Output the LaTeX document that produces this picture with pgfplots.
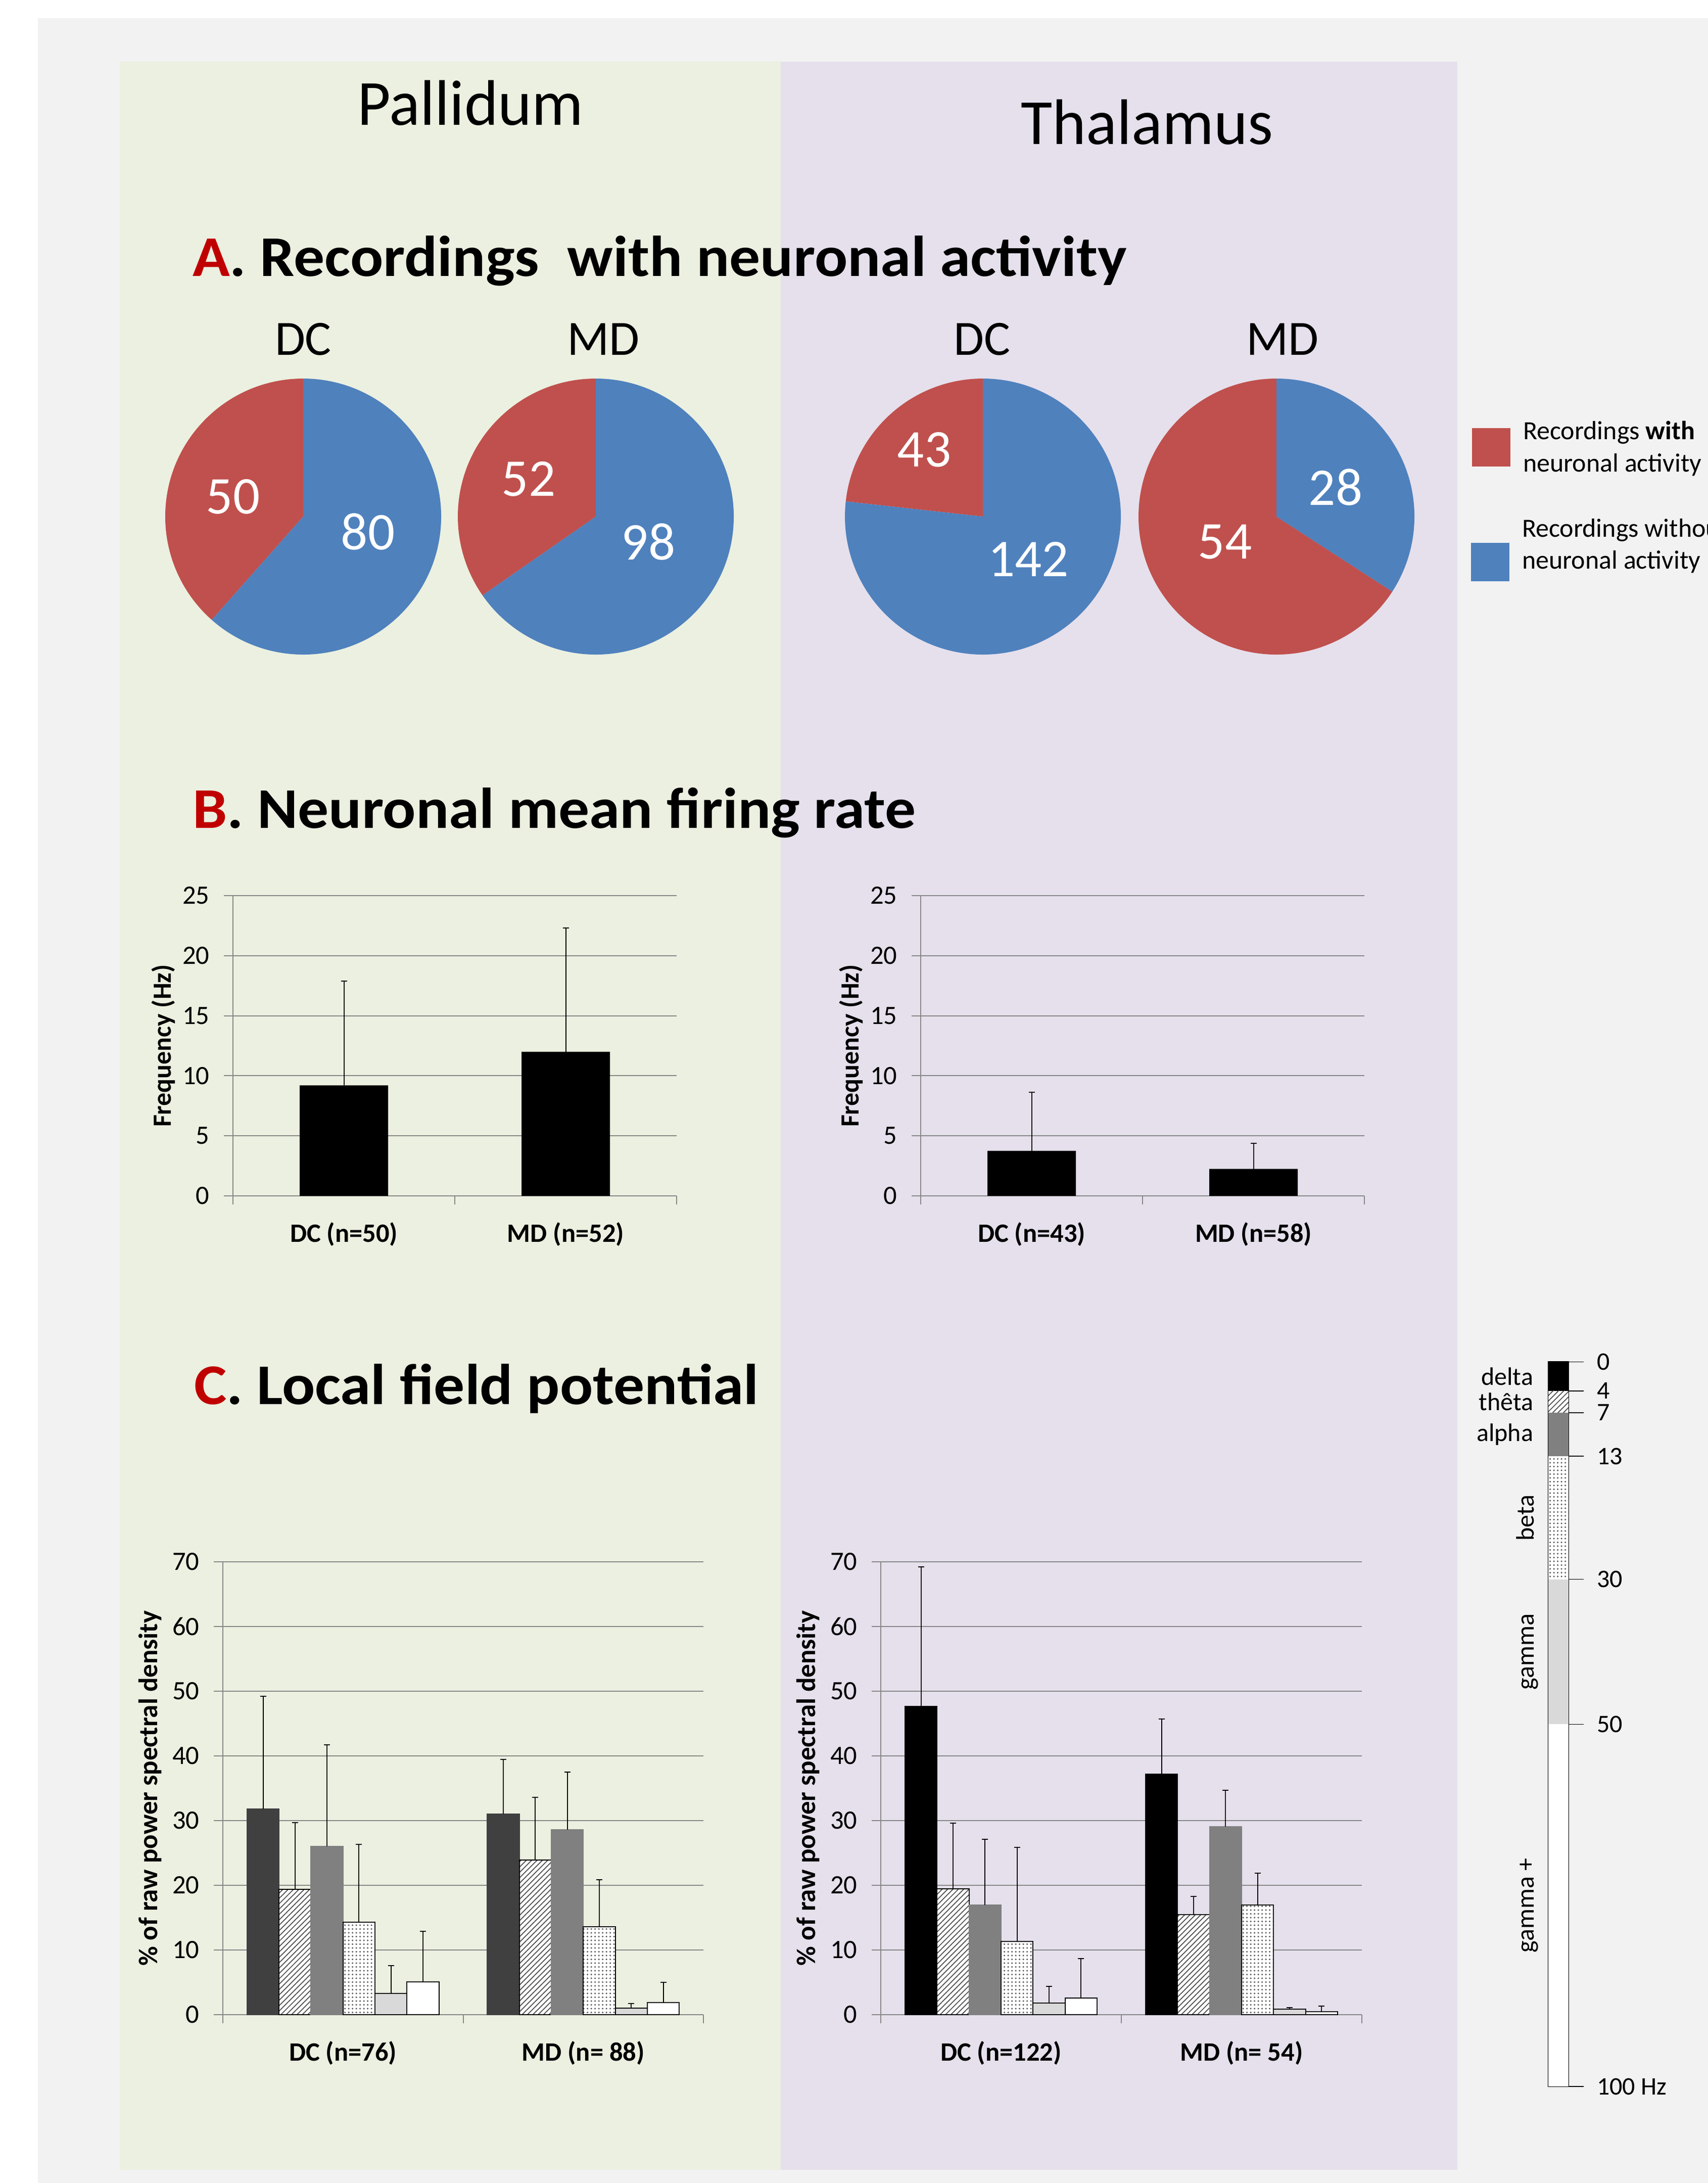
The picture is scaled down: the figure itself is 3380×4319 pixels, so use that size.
\documentclass[border=0pt]{standalone}
\usepackage{fontspec}
\setmainfont{Carlito}
\usepackage{pgfplots}
\pgfplotsset{compat=1.18}
\usepackage{pgfplotstable}
\usetikzlibrary{patterns.meta}

\definecolor{bggray}{RGB}{242,242,242}
\definecolor{pgreen}{RGB}{235,240,224}
\definecolor{ppurple}{RGB}{229,224,236}
\definecolor{pred}{RGB}{192,80,77}
\definecolor{pblue}{RGB}{79,129,189}
\definecolor{titlered}{RGB}{192,0,0}
\definecolor{axgray}{RGB}{134,134,134}
\definecolor{dkgray}{RGB}{64,64,64}
\definecolor{mdgray}{RGB}{128,128,128}
\definecolor{ltgray}{RGB}{217,217,217}

% band fills
\tikzset{
  hatchfill/.style={fill=white, postaction={pattern={Lines[angle=45,distance=1.5pt,line width=0.35pt]}, pattern color=black!70}},
  dotfill/.style={fill=white, postaction={pattern={Dots[distance=1.5pt,radius=0.35pt]}, pattern color=black!65}},
}
\newcommand\sectitle[2]{\scalebox{1.068}[1]{\textcolor{titlered}{#1}. #2}}

% firing rate (Hz): mean and SD
\pgfplotstableread{
x  y    e
1  9.2  8.7
2  12.0 10.3
}\pallB
\pgfplotstableread{
x  y    e
1  3.75 4.9
2  2.25 2.15
}\thalB

% LFP: % of raw PSD per band (delta, theta, alpha, beta, gamma, gamma+)
\pgfplotstableread{
x b1   e1   b2   e2   b3   e3   b4   e4   b5  e5  b6  e6
1 31.8 17.4 19.4 10.3 26.0 15.7 14.3 12.0 3.3 4.3 5.1 7.8
2 31.0 8.5  23.9 9.7  28.6 8.9  13.6 7.3  1.0 0.7 1.9 3.1
}\pallC
\pgfplotstableread{
x b1   e1   b2   e2   b3   e3   b4   e4   b5  e5  b6   e6
1 47.7 21.5 19.5 10.1 17.0 10.1 11.3 14.6 1.8 2.6 2.6  6.1
2 37.2 8.5  15.5 2.8  29.1 5.6  17.0 4.9  0.9 0.2 0.45 0.85
}\thalC

\pgfplotsset{
  excel/.style={
    scale only axis, anchor=south west, clip=false,
    enlargelimits=false,
    xmin=0.5, xmax=2.5, xtick={1,2}, minor xtick={0.5,1.5,2.5},
    axis x line*=bottom, axis y line*=left,
    axis line style={draw=axgray, line width=0.4pt, -},
    ymajorgrids, grid style={draw=axgray, line width=0.4pt},
    tick align=outside,
    major x tick style={draw=none},
    minor x tick style={draw=axgray, line width=0.4pt},
    ytick style={draw=axgray, line width=0.4pt},
    major tick length=3.6pt, minor tick length=3.4pt,
    tick label style={font=\fontsize{10.5}{12}\selectfont},
    /pgf/number format/assume math mode=true,
    yticklabel style={anchor=east, inner sep=0pt, xshift=-5.5pt},
    xticklabel style={anchor=center, inner sep=0pt, yshift=-11.6pt, font=\fontsize{10.5}{12}\selectfont\bfseries},
    error bars/y dir=plus, error bars/y explicit,
    error bars/error bar style={black, line width=0.4pt},
    error bars/error mark options={rotate=90, black, line width=0.4pt, mark size=1.2pt},
  },
  frate/.style={excel, width=175.6pt, height=118.8pt,
    ymin=0, ymax=25, ytick={0,5,...,25},
    ylabel={\fontsize{10.4}{12}\selectfont\bfseries Frequency (Hz)},
    every axis y label/.style={at={(axis description cs:-0.157,0.5)}, rotate=90, anchor=center},
  },
  lfp/.style={excel, width=190.2pt, height=179.2pt,
    ymin=0, ymax=70, ytick={0,10,...,70},
    ybar=0pt, bar width=12.66pt,
    ylabel={\fontsize{10.6}{12}\selectfont\bfseries \% of raw power spectral density},
    every axis y label/.style={at={(axis description cs:-0.151,0.5)}, rotate=90, anchor=center},
  },
}

\begin{document}
\begin{tikzpicture}[x=0.2pt, y=-0.2pt]
\useasboundingbox (0,0) rectangle (3380,4319);
\clip (0,0) rectangle (3380,4319);
\fill[white] (0,0) rectangle (3380,4319);
\fill[bggray] (75,36) rectangle (3380,4319);
\fill[pgreen] (237,122) rectangle (1545,4293);
\fill[ppurple] (1545,122) rectangle (2884,4293);

\node[anchor=base, inner sep=0pt, font=\fontsize{25.5}{30}\selectfont] at (931,247) {Pallidum};
\node[anchor=base, inner sep=0pt, font=\fontsize{25.5}{30}\selectfont] at (2270,285) {Thalamus};

\node[anchor=base west, inner sep=0pt, font=\fontsize{22.8}{27}\selectfont\bfseries] at (380,546)
  {\sectitle{A}{Recordings\ \ with neuronal activity}};
\node[anchor=base west, inner sep=0pt, font=\fontsize{22.8}{27}\selectfont\bfseries] at (380,1638)
  {\sectitle{B}{Neuronal mean firing rate}};
\node[anchor=base west, inner sep=0pt, font=\fontsize{22.8}{27}\selectfont\bfseries] at (383,2778)
  {\sectitle{C}{Local field potential}};

% pie headings
\foreach \x/\t in {600/DC,1194/MD,1943/DC,2538/MD}
  \node[anchor=base, inner sep=0pt, font=\fontsize{19.5}{23}\selectfont] at (\x,702) {\t};

% pie legend
\fill[pred] (2913,847) rectangle (2989,923);
\fill[pblue] (2911,1074) rectangle (2987,1150);
\node[anchor=base west, inner sep=0pt, font=\fontsize{10.4}{12}\selectfont] at (3013,869) {Recordings \textbf{with}};
\node[anchor=base west, inner sep=0pt, font=\fontsize{10.4}{12}\selectfont] at (3013,933) {neuronal activity};
\node[anchor=base west, inner sep=0pt, font=\fontsize{10.4}{12}\selectfont] at (3011,1062) {Recordings without};
\node[anchor=base west, inner sep=0pt, font=\fontsize{10.4}{12}\selectfont] at (3011,1125) {neuronal activity};

% A. pies (red = with activity, blue = without)
\begin{axis}[at={(0pt,-863.8pt)}, anchor=south west, scale only axis,
  width=676pt, height=863.8pt, xmin=0, xmax=3380, ymin=0, ymax=4319,
  y dir=reverse, hide axis, clip=false]
\fill[pred] (axis cs:600,1022) -- ++(90:54.6pt) arc[start angle=90, end angle={90+50/130*360}, radius=54.6pt] -- cycle;
\fill[pblue] (axis cs:600,1022) -- ++(90:54.6pt) arc[start angle=90, end angle={90-80/130*360}, radius=54.6pt] -- cycle;
\fill[pred] (axis cs:1179,1022) -- ++(90:54.6pt) arc[start angle=90, end angle={90+52/150*360}, radius=54.6pt] -- cycle;
\fill[pblue] (axis cs:1179,1022) -- ++(90:54.6pt) arc[start angle=90, end angle={90-98/150*360}, radius=54.6pt] -- cycle;
\fill[pred] (axis cs:1945,1022) -- ++(90:54.6pt) arc[start angle=90, end angle={90+43/185*360}, radius=54.6pt] -- cycle;
\fill[pblue] (axis cs:1945,1022) -- ++(90:54.6pt) arc[start angle=90, end angle={90-142/185*360}, radius=54.6pt] -- cycle;
\fill[pred] (axis cs:2526,1022) -- ++(90:54.6pt) arc[start angle=90, end angle={90+54/82*360}, radius=54.6pt] -- cycle;
\fill[pblue] (axis cs:2526,1022) -- ++(90:54.6pt) arc[start angle=90, end angle={90-28/82*360}, radius=54.6pt] -- cycle;
\begin{scope}[every node/.style={text=white, inner sep=0pt, font=\fontsize{21}{25}\selectfont}]
\node at (axis cs:461,983) {50};
\node at (axis cs:728,1052) {80};
\node at (axis cs:1046,948) {52};
\node at (axis cs:1283,1072) {98};
\node at (axis cs:1829,890) {43};
\node at (axis cs:2035,1106) {142};
\node at (axis cs:2643,964) {28};
\node at (axis cs:2424,1072) {54};
\end{scope}
\end{axis}

% B. firing rate
\begin{axis}[frate, at={(92.2pt,-473.2pt)}, xticklabels={DC (n=50), MD (n=52)}]
\addplot[ybar, bar width=35pt, fill=black, draw=none] table[x=x, y=y, y error=e] {\pallB};
\end{axis}
\begin{axis}[frate, at={(364.4pt,-473.2pt)}, xticklabels={DC (n=43), MD (n=58)}]
\addplot[ybar, bar width=35pt, fill=black, draw=none] table[x=x, y=y, y error=e] {\thalB};
\end{axis}

% C. LFP
\begin{axis}[lfp, at={(88.2pt,-797.2pt)}, xticklabels={DC (n=76), MD (n= 88)}]
\addplot[fill=dkgray, draw=dkgray, line width=0.4pt] table[x=x, y=b1, y error=e1] {\pallC};
\addplot[hatchfill, draw=black, line width=0.4pt] table[x=x, y=b2, y error=e2] {\pallC};
\addplot[fill=mdgray, draw=mdgray, line width=0.4pt] table[x=x, y=b3, y error=e3] {\pallC};
\addplot[dotfill, draw=black, line width=0.4pt] table[x=x, y=b4, y error=e4] {\pallC};
\addplot[fill=ltgray, draw=black, line width=0.4pt] table[x=x, y=b5, y error=e5] {\pallC};
\addplot[fill=white, draw=black, line width=0.4pt] table[x=x, y=b6, y error=e6] {\pallC};
\end{axis}
\begin{axis}[lfp, at={(348.6pt,-797.2pt)}, width=190.4pt, xticklabels={DC (n=122), MD (n= 54)}]
\addplot[fill=black, draw=black, line width=0.4pt] table[x=x, y=b1, y error=e1] {\thalC};
\addplot[hatchfill, draw=black, line width=0.4pt] table[x=x, y=b2, y error=e2] {\thalC};
\addplot[fill=mdgray, draw=mdgray, line width=0.4pt] table[x=x, y=b3, y error=e3] {\thalC};
\addplot[dotfill, draw=black, line width=0.4pt] table[x=x, y=b4, y error=e4] {\thalC};
\addplot[fill=ltgray, draw=black, line width=0.4pt] table[x=x, y=b5, y error=e5] {\thalC};
\addplot[fill=white, draw=black, line width=0.4pt] table[x=x, y=b6, y error=e6] {\thalC};
\end{axis}

% frequency band key (band edges in Hz)
\begin{axis}[at={(612.8pt,-825.6pt)}, anchor=south west, scale only axis,
  width=8pt, height=286.7pt, xmin=0, xmax=1, ymin=0, ymax=100,
  y dir=reverse, clip=false,
  xtick=\empty, ytick={0,4,7,13,30,50,100},
  yticklabels={0,4,7,13,30,50,100 Hz},
  ytick pos=right, yticklabel pos=right, tick align=outside,
  major tick length=6pt, ytick style={black, line width=0.3pt},
  axis line style={black, line width=0.5pt},
  tick label style={font=\fontsize{10}{12}\selectfont},
  /pgf/number format/assume math mode=true,
  yticklabel style={anchor=west, inner sep=0pt, xshift=5pt}]
\addplot[fill=black, draw=none] coordinates {(0,0) (1,0) (1,4) (0,4)} -- cycle;
\addplot[hatchfill, draw=none] coordinates {(0,4) (1,4) (1,7) (0,7)} -- cycle;
\addplot[fill=mdgray, draw=none] coordinates {(0,7) (1,7) (1,13) (0,13)} -- cycle;
\addplot[dotfill, draw=none] coordinates {(0,13) (1,13) (1,30) (0,30)} -- cycle;
\addplot[fill=ltgray, draw=none] coordinates {(0,30) (1,30) (1,50) (0,50)} -- cycle;
\addplot[fill=white, draw=none] coordinates {(0,50) (1,50) (1,100) (0,100)} -- cycle;
\begin{scope}[every node/.style={inner sep=0pt, font=\fontsize{10}{12}\selectfont}]
\node[anchor=east] at ([xshift=-5.8pt]axis cs:0,2) {delta};
\node[anchor=east] at ([xshift=-5.8pt]axis cs:0,5.5) {thêta};
\node[anchor=east] at ([xshift=-5.8pt]axis cs:0,10) {alpha};
\node[anchor=base, rotate=90] at ([xshift=-5.8pt]axis cs:0,21.5) {beta};
\node[anchor=base, rotate=90] at ([xshift=-5.8pt]axis cs:0,40) {gamma};
\node[anchor=base, rotate=90] at ([xshift=-5.8pt]axis cs:0,75) {gamma +};
\end{scope}
\end{axis}
\end{tikzpicture}
\end{document}
